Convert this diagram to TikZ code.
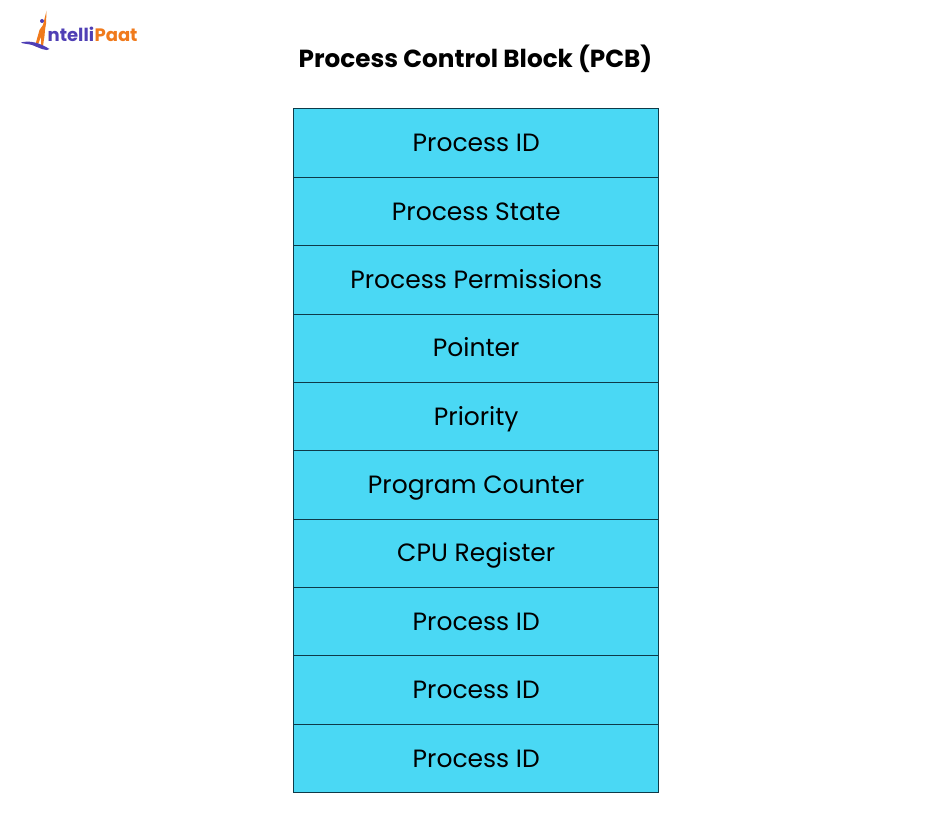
\documentclass[tikz,border=0pt]{standalone}
\usepackage{fontspec}
\setmainfont{Poppins}
\definecolor{cellfill}{HTML}{4AD8F4}
\definecolor{cellline}{HTML}{0E3A48}
\definecolor{logopurple}{HTML}{4F3FB5}
\definecolor{logoorange}{HTML}{F07A1C}
\tikzset{
  cell/.style={draw=cellline,line width=0.9pt,fill=cellfill,minimum width=365pt,minimum height=68.35pt,inner sep=0pt,anchor=north west,text=black,text height=17.5pt,text depth=0pt,font=\fontsize{25}{29}\selectfont},
  heading/.style={font=\bfseries\fontsize{24.7}{28}\selectfont,text=black,inner sep=0pt},
  logotext/.style={font=\bfseries\fontsize{18}{22}\selectfont,inner sep=0pt,anchor=base west}
}
\begin{document}
\begin{tikzpicture}[x=1pt,y=-1pt]
\useasboundingbox (0,0) rectangle (951,826);
\fill[white] (0,0) rectangle (951,826);
\node[heading] (title) at (475.5,59) {Process Control Block (PCB)};
\foreach \n/\t [count=\i from 0] in {a/Process ID,b/Process State,c/Process Permissions,d/Pointer,e/Priority,f/Program Counter,g/CPU Register,h/Process ID,i/Process ID,j/Process ID}{
  \node[cell] (\n) at (293.3,108.5+68.35*\i) {\t};
}
% logo
\fill[logoorange] (46.5,11) -- (46,24) -- (45,30) -- (44.5,36) -- (43,46) -- (41,46) -- (41,37) -- (37,47) -- (35,46) -- (39.5,30) -- (43,25) -- cycle;
\fill[logopurple] (42,21) circle (2);
\fill[logopurple] (21,42.5) .. controls (30,40) and (40,43) .. (49.5,49) .. controls (47,52) and (40,48) .. (32,45) .. controls (27,43.5) and (23,44) .. (21,42.5) -- cycle;
\node[logotext,text=logopurple] (lp) at (47.5,42) {ntelli};
\node[logotext,text=logoorange] (lo) at (lp.base east) {Paat};
\end{tikzpicture}
\end{document}
